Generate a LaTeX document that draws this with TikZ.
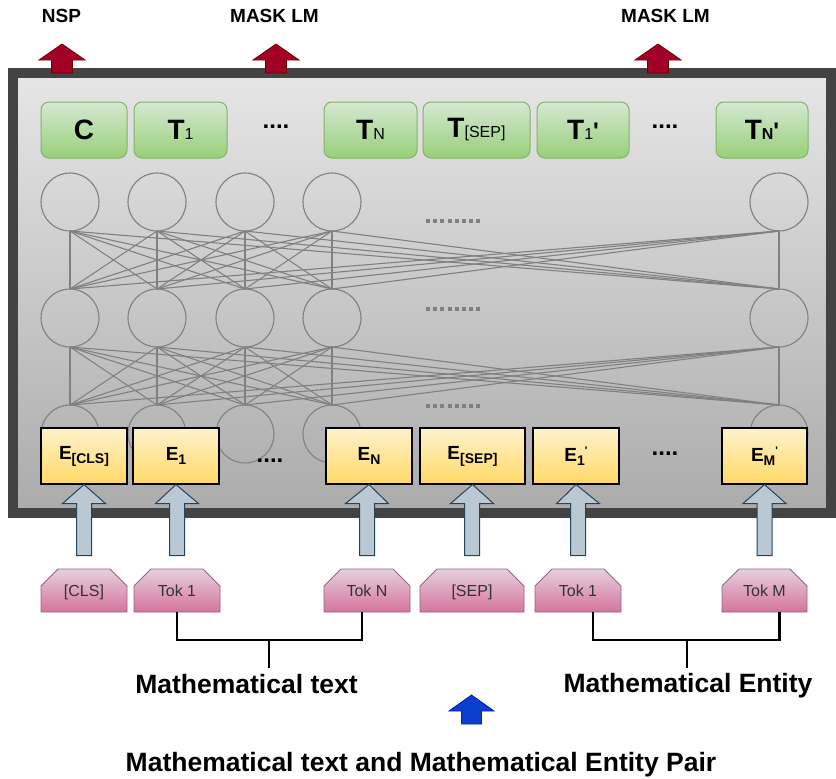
\documentclass[tikz,border=0pt]{standalone}
\usepackage{fontspec}
\setmainfont{Liberation Sans}[Ligatures=TeXOff]
\usetikzlibrary{calc,shapes.misc}
\definecolor{frameC}{HTML}{434343}
\definecolor{frameT}{HTML}{E6E6E6}
\definecolor{frameB}{HTML}{ABABAB}
\definecolor{grnT}{HTML}{D5E8D4}
\definecolor{grnB}{HTML}{97D077}
\definecolor{grnE}{HTML}{82B366}
\definecolor{ylwT}{HTML}{FFF2CC}
\definecolor{ylwB}{HTML}{FFD966}
\definecolor{pnkT}{HTML}{E6D0DE}
\definecolor{pnkB}{HTML}{D5739D}
\definecolor{pnkE}{HTML}{996185}
\definecolor{neuC}{HTML}{808080}
\definecolor{bluT}{HTML}{BAC8D3}
\definecolor{bluE}{HTML}{23445D}
\definecolor{redF}{HTML}{A20025}
\definecolor{redE}{HTML}{6F0000}
\definecolor{dkbF}{HTML}{0B3ECC}
\definecolor{dkbE}{HTML}{001DBC}
\newcommand\fs[1]{\fontsize{#1}{#1}\selectfont}
\newcommand\bigT{{\fs{28}\bfseries T}}
\newcommand\subT[1]{{\fs{16}#1}}
\newcommand\Eb[2]{{\fs{19}\bfseries E}\raisebox{-4pt}{\fs{14}\bfseries #1}#2}
\newcommand\fatarrow[6]{%
  \path[#1] let \p1=(#2), \p2=(#3) in
    (\x1-#4,\y1) -- (\x1-#4,\y2-#6) -- (\x1-#5,\y2-#6) -- (\x2,\y2)
    -- (\x1+#5,\y2-#6) -- (\x1+#4,\y2-#6) -- (\x1+#4,\y1) -- cycle;}
\begin{document}
\begin{tikzpicture}[x=1pt,y=-1pt,
  greenbox/.style={draw=grnE, top color=grnT, bottom color=grnB, rounded corners=8pt,
    line width=1pt, minimum height=56pt, inner sep=0pt},
  yellowbox/.style={draw=black, top color=ylwT, bottom color=ylwB, line width=1.1pt,
    minimum height=56pt, inner sep=0pt},
  tokbox/.style={chamfered rectangle, chamfered rectangle corners={north west,north east},
    chamfered rectangle xsep=12pt, chamfered rectangle ysep=11pt,
    draw=pnkE, top color=pnkT, bottom color=pnkB, line width=0.9pt,
    minimum height=43pt, inner sep=0pt, text=black!80, font=\fs{16},
    text height=11.5pt, text depth=0.5pt},
  neuron/.style={circle, draw=neuC, line width=1.1pt, minimum size=58pt, inner sep=0pt, outer sep=0pt},
  link/.style={draw=neuC, line width=1.1pt},
  dotline/.style={draw=neuC, line width=4pt, dash pattern=on 4pt off 3.2pt},
  bluearr/.style={draw=bluE, fill=bluT, line width=1pt},
  redarr/.style={draw=redE, fill=redF, line width=0.8pt},
  dkbarr/.style={draw=dkbE, fill=dkbF, line width=0.8pt},
  toplabel/.style={font=\fs{19}\bfseries, inner sep=0pt, anchor=base},
  biglabel/.style={font=\fs{26.5}\bfseries, inner sep=0pt, anchor=base},
  brk/.style={draw=black, line width=2.6pt},
  dots/.style={font=\fs{24}\bfseries, inner sep=0pt}
]
\useasboundingbox (0,0) rectangle (836,779);

% frame
\draw[line width=10pt, draw=frameC, top color=frameT, bottom color=frameB] (13,73) rectangle (831,513);

% dotted gray separators
\draw[dotline] (426,221) -- (483,221);
\draw[dotline] (426,309) -- (483,309);
\draw[dotline] (426,406) -- (483,406);

% neurons
\foreach \i/\x in {1/70,2/157,3/245,4/332,5/779}{
  \node[neuron] (na\i) at (\x,202) {};
  \node[neuron] (nb\i) at (\x,318) {};
  \node[neuron] (nc\i) at (\x,434) {};
}
\foreach \i in {1,...,5}{
  \foreach \j in {1,...,5}{
    \draw[link] (na\i.south) -- (nb\j.north);
    \draw[link] (nb\i.south) -- (nc\j.north);
  }
}

% output boxes
\node[greenbox, minimum width=86pt] (gC) at (84,130) {{\fs{28}\bfseries C}};
\node[greenbox, minimum width=93pt] (gT1) at (180.5,130) {\bigT\subT{1}};
\node[dots] (gd1) at (276,127) {....};
\node[greenbox, minimum width=93pt] (gTN) at (370.5,130) {\bigT\subT{N}};
\node[greenbox, minimum width=107pt] (gTS) at (476.5,130) {\bigT\subT{[SEP]}};
\node[greenbox, minimum width=92pt] (gT1p) at (583,130) {\bigT\subT{1}{\fs{24}\bfseries '}};
\node[dots] (gd2) at (665,127) {....};
\node[greenbox, minimum width=92pt] (gTNp) at (762,130) {\bigT{\fs{16}\bfseries N}{\fs{24}\bfseries '}};

% embedding boxes
\node[yellowbox, minimum width=86pt] (eC) at (84,456) {\Eb{[CLS]}{}};
\node[yellowbox, minimum width=86pt] (e1) at (176,456) {\Eb{1}{}};
\node[dots] (ed1) at (270,461) {....};
\node[yellowbox, minimum width=86pt] (eN) at (369,456) {\Eb{N}{}};
\node[yellowbox, minimum width=105pt] (eS) at (472.5,456) {\Eb{[SEP]}{}};
\node[yellowbox, minimum width=86pt] (e1p) at (576,456) {\Eb{1}{\raisebox{7pt}{\fs{11}\bfseries '}}};
\node[dots] (ed2) at (665,454) {....};
\node[yellowbox, minimum width=85pt] (eMp) at (764.5,456) {\Eb{M}{\raisebox{7pt}{\fs{11}\bfseries '}}};

% token boxes
\node[tokbox, minimum width=86pt] (pC) at (84,590.5) {[CLS]};
\node[tokbox, minimum width=86pt] (p1) at (177,590.5) {Tok 1};
\node[tokbox, minimum width=86pt] (pN) at (367,590.5) {Tok N};
\node[tokbox, minimum width=104pt] (pS) at (472,590.5) {[SEP]};
\node[tokbox, minimum width=86pt] (p1p) at (578,590.5) {Tok 1};
\node[tokbox, minimum width=85pt] (pM) at (764.5,590.5) {Tok M};

% input arrows
\fatarrow{bluearr}{[yshift=13pt]pC.north}{eC.south}{7.5pt}{21.5pt}{19pt}
\fatarrow{bluearr}{[yshift=13pt]p1.north}{e1.south}{7.5pt}{21.5pt}{19pt}
\fatarrow{bluearr}{[yshift=13pt]pN.north}{eN.south}{7.5pt}{21.5pt}{19pt}
\fatarrow{bluearr}{[yshift=13pt]pS.north}{eS.south}{7.5pt}{21.5pt}{19pt}
\fatarrow{bluearr}{[yshift=13pt]p1p.north}{e1p.south}{7.5pt}{21.5pt}{19pt}
\fatarrow{bluearr}{[yshift=13pt]pM.north}{eMp.south}{7.5pt}{21.5pt}{19pt}

% top labels and red arrows
\node[toplabel] (lNSP) at (61.5,23) {NSP};
\node[toplabel] (lM1) at (274.5,23) {MASK LM};
\node[toplabel] (lM2) at (665.5,23) {MASK LM};
\coordinate (ra1) at (62,73);  \coordinate (rt1) at (62,44);
\coordinate (ra2) at (276,73); \coordinate (rt2) at (276,44);
\coordinate (ra3) at (658,73); \coordinate (rt3) at (658,44);
\fatarrow{redarr}{ra1}{rt1}{10.5pt}{23pt}{16pt}
\fatarrow{redarr}{ra2}{rt2}{10.5pt}{23pt}{16pt}
\fatarrow{redarr}{ra3}{rt3}{10.5pt}{23pt}{16pt}

% bottom labels and brackets
\node[biglabel] (mt) at (246.5,693) {Mathematical text};
\node[biglabel] (me) at (688,692) {Mathematical Entity};
\node[biglabel] (mp) at (421,771) {Mathematical text and Mathematical Entity Pair};
\coordinate (s1) at (269,640); \coordinate (s1e) at (269,668);
\coordinate (s2) at (687,640); \coordinate (s2e) at (687,668);
\draw[brk] (p1.south) -- (p1.south |- s1) -| ([xshift=-5pt]pN.south);
\draw[brk] (s1) -- (s1e);
\draw[brk] ([xshift=15pt]p1p.south) -- ([xshift=15pt]p1p.south |- s2) -| ([xshift=15pt]pM.south);
\draw[brk] (s2) -- (s2e);

\coordinate (ba) at (471.5,724); \coordinate (bt) at (471.5,695);
\fatarrow{dkbarr}{ba}{bt}{10pt}{22.5pt}{16pt}
\end{tikzpicture}
\end{document}
